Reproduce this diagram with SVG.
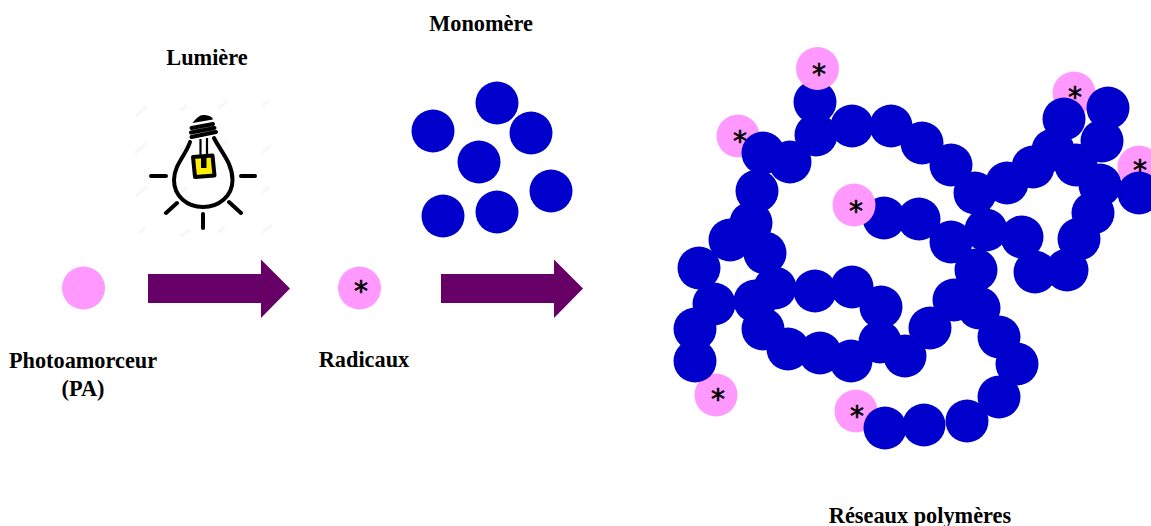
<svg xmlns="http://www.w3.org/2000/svg" width="1151" height="526" viewBox="0 0 1151 526">
<style>
.l{font-family:"Liberation Serif","Times New Roman",serif;font-weight:700;font-size:22.300px;text-anchor:middle;fill:#000}
.a{font-family:"DejaVu Sans",sans-serif;font-size:28px;text-anchor:middle;fill:#000;stroke:#000;stroke-width:.6px}
.p{fill:#ff99ff}
.b{fill:#0000cc}
.s{fill:none;stroke:#000;stroke-width:4;stroke-linecap:round;stroke-linejoin:round}
.w{fill:none;stroke:#f7f7f7;stroke-width:3;stroke-linecap:round}
.r{fill:#660066}
</style>
<defs>
<circle id="d" r="21.500" class="b"/>
<circle id="q" r="21.500" class="p"/>
<text id="t" class="a" y="13">*</text>
</defs>
<g id="connectors">
<polygon class="r" points="148,274 261,274 261,259.500 290,288.500 261,318 261,303 148,303"/>
<polygon class="r" points="441,274 554,274 554,259.500 583,288.500 554,318 554,303 441,303"/>
</g>
<g id="photoamorceur">
<circle cx="83.500" cy="288" r="21.500" class="p"/>
<text class="l" x="83" y="368">Photoamorceur</text>
<text class="l" x="83" y="396">(PA)</text>
</g>
<g id="lumiere">
<text class="l" x="207" y="65">Lumière</text>
<g class="w">
<path d="M137 115l9-8M181 110l5-4M219 108l8-7M263 105l5-4M136 152l10-8M181 150l5-4M219 148l8-7M263 152l7-6M137 195l10-8M181 192l5-4M263 192l5-4M140 232l5-4M181 236l8-6M219 232l5-4M263 232l8-6"/>
</g>
<path class="s" d="M190 142C186 155 174 165 174 180C174 196 187 207 203 207C219 207 232.500 196 232.500 180C232.500 163 221 152 214 138"/>
<path class="s" stroke-width="3.500" d="M191.500 137L216 132M191 132.500L214.500 128M191.500 128L213 124"/>
<path fill="#000" d="M192.500 123C196 118 200 115 203 115C207 115 212 116 213 119.500Z"/>
<path fill="none" stroke="#000" stroke-width="2.200" d="M200.500 139V156M207 138V155"/>
<path fill="#ffee00" stroke="#000" stroke-width="4" stroke-linejoin="round" d="M193 157L212.500 155.500L214.500 175.500L195 177Z"/>
<path fill="#000" d="M201 157H206.500V168H201Z"/>
<path class="s" d="M151 176H166M241 176H255M203 214V228M166 213L177 203M229 202L241 213"/>
</g>
<g id="radicaux">
<circle cx="359.500" cy="288" r="21.500" class="p"/>
<use href="#t" x="361" y="288"/>
<text class="l" x="364" y="367">Radicaux</text>
</g>
<g id="monomere">
<text class="l" x="481" y="31">Monomère</text>
<use href="#d" x="497" y="103"/>
<use href="#d" x="433" y="131"/>
<use href="#d" x="531" y="133"/>
<use href="#d" x="479" y="162"/>
<use href="#d" x="551" y="191"/>
<use href="#d" x="443" y="216"/>
<use href="#d" x="497" y="212"/>
</g>
<g id="reseaux">
<use href="#q" x="738" y="136"/><use href="#t" x="740" y="138"/>
<use href="#q" x="1074" y="93"/><use href="#t" x="1075" y="94"/>
<use href="#q" x="1139" y="167"/><use href="#t" x="1140" y="167"/>
<use href="#q" x="716" y="395"/><use href="#t" x="718" y="396"/>
<use href="#q" x="856" y="411"/><use href="#t" x="857" y="413"/>
<use href="#d" x="815" y="102"/><use href="#d" x="816" y="135"/><use href="#d" x="852" y="126"/><use href="#d" x="891" y="126"/>
<use href="#d" x="922" y="143"/><use href="#d" x="951" y="165"/><use href="#d" x="975" y="193"/><use href="#d" x="1007" y="183"/>
<use href="#d" x="1033" y="167"/><use href="#d" x="1053" y="150"/><use href="#d" x="1064" y="119"/><use href="#d" x="1108" y="108"/>
<use href="#d" x="1102" y="141"/><use href="#d" x="1076" y="165"/><use href="#d" x="1100" y="185"/><use href="#d" x="1139" y="193"/>
<use href="#d" x="1093" y="213"/><use href="#d" x="1079" y="239"/><use href="#d" x="1067" y="270"/><use href="#d" x="1035" y="272"/>
<use href="#d" x="1022" y="237"/><use href="#d" x="986" y="230"/><use href="#d" x="951" y="242"/><use href="#d" x="919" y="219"/>
<use href="#d" x="884" y="218"/><use href="#d" x="976" y="270"/><use href="#d" x="763" y="153"/><use href="#d" x="790" y="162"/>
<use href="#d" x="757" y="191"/><use href="#d" x="751" y="223"/><use href="#d" x="730" y="240"/><use href="#d" x="765" y="253"/>
<use href="#d" x="699" y="268"/><use href="#d" x="775" y="288"/><use href="#d" x="755" y="301"/><use href="#d" x="714" y="304"/>
<use href="#d" x="695" y="329"/><use href="#d" x="695" y="361"/><use href="#d" x="763" y="329"/><use href="#d" x="788" y="349"/>
<use href="#d" x="820" y="353"/><use href="#d" x="851" y="361"/><use href="#d" x="880" y="342"/><use href="#d" x="905" y="356"/>
<use href="#d" x="881" y="307"/><use href="#d" x="852" y="287"/><use href="#d" x="815" y="291"/><use href="#d" x="930" y="328"/>
<use href="#d" x="954" y="300"/><use href="#d" x="979" y="308"/><use href="#d" x="999" y="337"/><use href="#d" x="1017" y="364"/>
<use href="#d" x="999" y="397"/><use href="#d" x="967" y="421"/><use href="#d" x="924" y="425"/><use href="#d" x="885" y="428"/>
<use href="#q" x="817.500" y="68.500"/><use href="#t" x="819" y="71"/>
<use href="#q" x="854" y="205"/><use href="#t" x="856" y="208"/>
<text class="l" x="920" y="523">Réseaux polymères</text>
</g>
</svg>
